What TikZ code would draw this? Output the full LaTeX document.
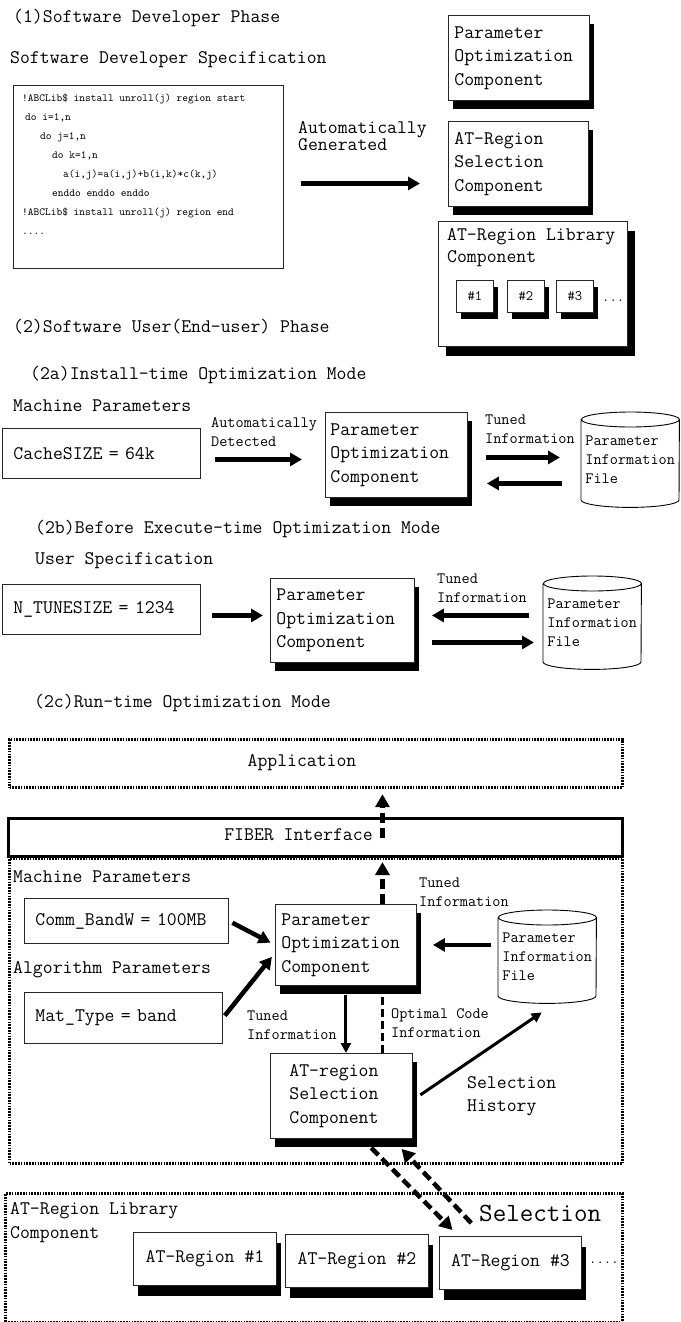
\documentclass[tikz,border=0pt]{standalone}
\usepackage{fontspec}
\usetikzlibrary{arrows.meta,shadows}

\newcommand\fontHead{\ttfamily\fontsize{19.2}{24}\selectfont}
\newcommand\fontBox{\ttfamily\fontsize{19.2}{23.5}\selectfont}
\newcommand\fontLab{\ttfamily\fontsize{15.8}{19}\selectfont}
\newcommand\fontCode{\ttfamily\fontsize{10.9}{19}\selectfont}
\newcommand\fontNum{\ttfamily\fontsize{14.3}{18}\selectfont}
\newcommand\fontSel{\ttfamily\fontsize{26.3}{30}\selectfont}

\tikzset{
  txt/.style={inner sep=0pt, anchor=west, align=left, font=\fontHead},
  lab/.style={inner sep=0pt, anchor=west, align=left, font=\fontLab},
  plainbox/.style={draw=black!85, line width=0.9pt, fill=white, inner sep=0pt, anchor=north west},
  valbox/.style={plainbox, font=\fontHead, align=left, inner xsep=11pt},
  compbox/.style={plainbox, font=\fontBox, align=left, inner xsep=6pt,
    drop shadow={shadow xshift=5pt, shadow yshift=-9pt, fill=black, opacity=1}},
  regbox/.style={plainbox, font=\fontHead, minimum width=143pt, minimum height=53pt,
    drop shadow={shadow xshift=5pt, shadow yshift=-11pt, fill=black, opacity=1}},
  slotbox/.style={plainbox, font=\fontNum, minimum width=37pt, minimum height=32pt,
    drop shadow={shadow xshift=5pt, shadow yshift=-7pt, fill=black, opacity=1}},
  filebox/.style={inner sep=0pt, anchor=north west, align=left, font=\fontLab, minimum width=98pt},
  dotbox/.style={draw, line width=3.2pt, dash pattern=on 1.6pt off 1.2pt, inner sep=0pt, anchor=north west},
  bigarrow/.style={line width=4.5pt, -{Triangle[length=12pt,width=13pt]}},
  midarrow/.style={line width=3pt, -{Triangle[length=10pt,width=10pt]}},
  dasharrow/.style={line width=4.5pt, dash pattern=on 10pt off 5pt, -{Triangle[length=13pt,width=14pt]}},
}

\begin{document}
\begin{tikzpicture}[x=1pt,y=-1pt]
    \useasboundingbox (0,0) rectangle (680,1322);

    % (1) developer side
    \node[txt] (phaseA) at (13,18) {(1)Software Developer Phase};
    \node[txt] (specA) at (10,60) {Software Developer Specification};
    \node[plainbox, minimum width=270pt, minimum height=183pt] (code) at (13,85) {};
    \node[inner sep=0pt, anchor=north west, align=left, font=\fontCode] (codelines) at (22,94) {!ABCLib\$ install unroll(j) region start\\
        \hspace*{3pt}do i=1,n\\
        \hspace*{18pt}do j=1,n\\
        \hspace*{30pt}do k=1,n\\
        \hspace*{41pt}a(i,j)=a(i,j)+b(i,k)*c(k,j)\\
        \hspace*{30pt}enddo enddo enddo\\
        !ABCLib\$ install unroll(j) region end\\
        ....};
    \node[txt, font=\ttfamily\fontsize{19.2}{17}\selectfont] (genlab) at (298,136.5) {Automatically\\Generated};

    \node[compbox, text width=129pt, minimum height=85pt] (paramA) at (448,15) {Parameter\\Optimization\\Component};
    \node[compbox, text width=128pt, minimum height=85pt] (selA) at (448,121) {AT-Region\\Selection\\Component};
    \node[plainbox, minimum width=189pt, minimum height=125pt,
        drop shadow={shadow xshift=8pt, shadow yshift=-10pt, fill=black, opacity=1}] (libA) at (438,221) {};
    \node[txt, font=\ttfamily\fontsize{19.2}{22}\selectfont] (libAtext) at (447,248) {AT-Region Library\\Component};
    \foreach \i/\x in {1/456,2/507,3/556}
        \node[slotbox] (slot\i) at (\x,280) {\#\i};
    \node[lab, font=\fontNum] (slotdots) at (602,301) {...};

    \draw[bigarrow, shorten <=17pt, shorten >=28pt] ([yshift=-6.5pt]code.east) -- ([yshift=-6.5pt]code.east -| selA.west);

    % (2) user side
    \node[txt] (phaseB) at (13,327) {(2)Software User(End-user) Phase};

    % (2a)
    \node[txt] (modeA) at (30,375) {(2a)Install-time Optimization Mode};
    \node[txt] (machA) at (13,406) {Machine Parameters};
    \node[valbox, text width=176pt, minimum height=50pt] (cache) at (2,428) {CacheSIZE = 64k};
    \node[lab] (detA) at (211,432.5) {Automatically\\Detected};
    \node[compbox, text width=132pt, minimum height=85pt, inner xsep=5pt] (paramB) at (325,412) {Parameter\\Optimization\\Component};
    \node[lab] (tunedA) at (485,429) {Tuned\\Information};
    \node[filebox, minimum height=95pt] (fileA) at (581,412) {Parameter\\Information\\File};

    \draw[bigarrow, shorten <=14pt, shorten >=23pt] ([yshift=-6pt]cache.east) -- ([yshift=-6pt]cache.east -| paramB.west);
    \draw[bigarrow, shorten <=18pt, shorten >=21pt] ([yshift=-2.5pt]paramB.east) -- ([yshift=-2.5pt]paramB.east -| fileA.west);
    \draw[bigarrow, shorten <=19pt, shorten >=19pt] ([yshift=-28.5pt]paramB.east -| fileA.west) -- ([yshift=-28.5pt]paramB.east);

    % (2b)
    \node[txt] (modeB) at (35,529) {(2b)Before Execute-time Optimization Mode};
    \node[txt] (userB) at (35,561) {User Specification};
    \node[valbox, text width=176pt, minimum height=50pt] (tune) at (2,584) {N\_TUNESIZE = 1234};
    \node[compbox, text width=132pt, minimum height=84pt] (paramC) at (270,578) {Parameter\\Optimization\\Component};
    \node[lab] (tunedB) at (437,588) {Tuned\\Information};
    \node[filebox, minimum height=93pt] (fileB) at (543,576) {Parameter\\Information\\File};

    \draw[bigarrow, shorten <=11pt, shorten >=7pt] ([yshift=-6pt]tune.east) -- ([yshift=-6pt]tune.east -| paramC.west);
    \draw[bigarrow, shorten <=14pt, shorten >=17pt] ([yshift=5pt]paramC.east -| fileB.west) -- ([yshift=5pt]paramC.east);
    \draw[bigarrow, shorten <=17pt, shorten >=9pt] ([yshift=-22pt]paramC.east) -- ([yshift=-22pt]paramC.east -| fileB.west);

    % (2c)
    \node[txt] (modeC) at (34,703) {(2c)Run-time Optimization Mode};
    \node[dotbox, minimum width=613pt, minimum height=48pt] (app) at (8,738) {};
    \node[txt, anchor=center] (apptext) at (302,763) {Application};
    \node[draw, line width=3pt, inner sep=0pt, anchor=north west, minimum width=614pt, minimum height=38pt] (fiber) at (7,817) {};
    \node[txt, anchor=center] (fibertext) at (298.5,835) {FIBER Interface};
    \node[dotbox, minimum width=613pt, minimum height=305pt] (runbox) at (8,857) {};

    \node[txt] (machC) at (13,877) {Machine Parameters};
    \node[valbox, text width=182pt, minimum height=45pt] (comm) at (24,898) {Comm\_BandW = 100MB};
    \node[txt] (algoC) at (13,970) {Algorithm Parameters};
    \node[valbox, text width=176pt, minimum height=51pt] (mat) at (24,992) {Mat\_Type = band};
    \node[compbox, text width=129pt, minimum height=81pt] (paramD) at (275,904) {Parameter\\Optimization\\Component};
    \node[lab] (tunedC) at (419,892.5) {Tuned\\Information};
    \node[filebox, minimum height=93pt] (fileC) at (498,910) {Parameter\\Information\\File};
    \node[compbox, text width=104pt, inner xsep=19pt, minimum height=85pt] (selC) at (270,1053) {AT-region\\Selection\\Component};
    \node[lab] (tunedD) at (247,1025) {Tuned\\Information};
    \node[lab] (optC) at (391,1023.5) {Optimal Code\\Information};
    \node[txt, font=\ttfamily\fontsize{19.2}{23}\selectfont] (histC) at (467,1096.5) {Selection\\History};

    % library of regions
    \node[dotbox, minimum width=617pt, minimum height=129pt] (libC) at (4,1192) {};
    \node[txt] (libCtext) at (10,1223) {AT-Region Library\\Component};
    \node[regbox] (reg1) at (133,1232) {AT-Region \#1};
    \node[regbox] (reg2) at (285,1234) {AT-Region \#2};
    \node[regbox, minimum width=142pt] (reg3) at (439,1236) {AT-Region \#3};
    \node[lab, font=\fontNum] (regdots) at (589,1263) {....};
    \node[txt, font=\fontSel] (selword) at (479,1213) {Selection};

    % cylinders
    \foreach \f in {fileA,fileB,fileC}
        \draw[line width=0.9pt] ([yshift=-7.5pt]\f.north west) -- ([yshift=7.5pt]\f.south west)
            arc[start angle=180, end angle=360, x radius=49pt, y radius=7.5pt]
            -- ([yshift=-7.5pt]\f.north east)
            arc[start angle=0, end angle=360, x radius=49pt, y radius=7.5pt];

    \draw[dasharrow, shorten >=4pt] ([xshift=36.5pt]paramD.north) -- ([xshift=36.5pt]paramD.north |- fiber.south);
    \draw[dasharrow, shorten >=5pt] ([xshift=36.5pt]paramD.north |- fiber.center) -- ([xshift=36.5pt]paramD.north |- app.south);

    \draw[bigarrow, shorten <=4pt, shorten >=5pt] (comm.east) -- (paramD.west);
    \draw[bigarrow, shorten <=3pt, shorten >=5pt] (mat.east) -- ([yshift=-8pt]paramD.west);
    \draw[bigarrow, shorten <=7pt, shorten >=16pt] (fileC.west |- paramD.east) -- (paramD.east);
    \draw[midarrow, shorten <=9pt] (paramD.south) -- (paramD.south |- selC.north);
    \draw[line width=3.5pt, dash pattern=on 8pt off 4pt] ([xshift=41pt]selC.north) -- ([xshift=41pt]selC.north |- paramD.south);
    \draw[midarrow, shorten <=9pt] ([yshift=-4pt]selC.east) -- ([xshift=-5.5pt,yshift=-9pt]fileC.south);

    \draw[dasharrow, shorten <=12.6pt, shorten >=8.4pt] ([xshift=21pt]selC.south) -- ([xshift=-52pt]reg3.north);
    \draw[dasharrow, shorten <=17.8pt, shorten >=13.7pt] ([xshift=-27pt]reg3.north) -- ([xshift=50.7pt]selC.south);
\end{tikzpicture}
\end{document}
